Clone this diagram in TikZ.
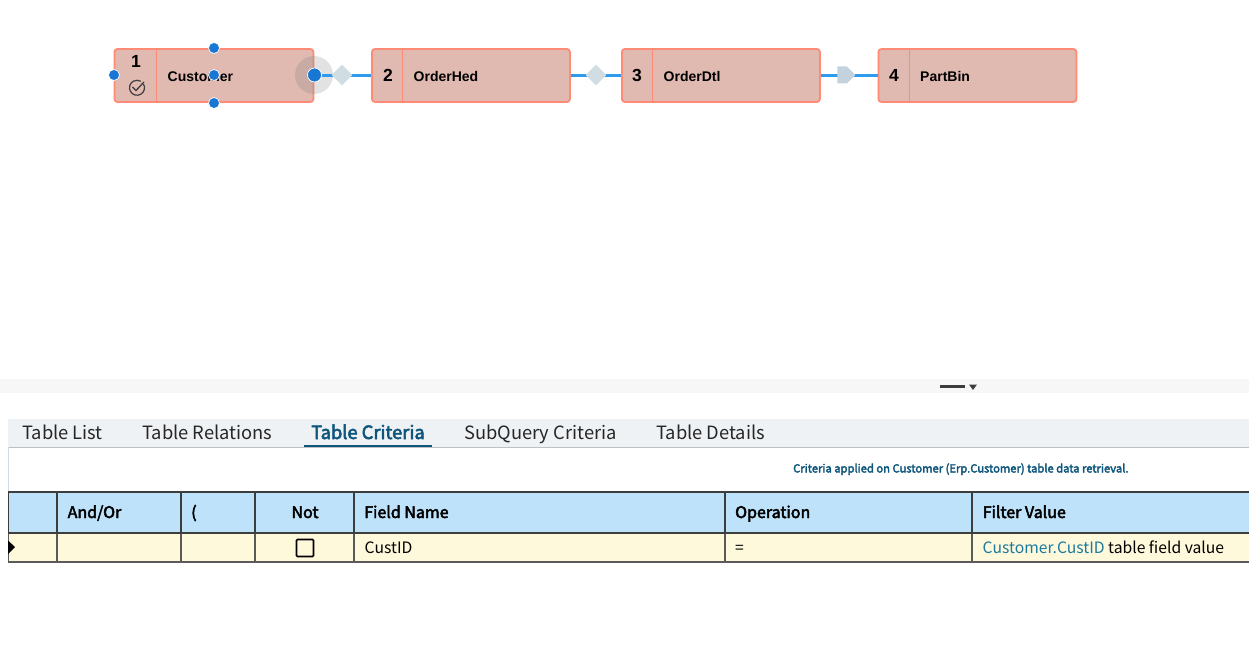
\documentclass[tikz,border=0pt]{standalone}
\usepackage{fontspec}
\usepackage{xcolor}
\setmainfont{Noto Sans CJK SC}
\newfontfamily\tblfont{Liberation Sans}
\newfontfamily\semifont[FakeBold=3]{Noto Sans CJK SC}
\usetikzlibrary{positioning,shapes.geometric,shapes.symbols}
\definecolor{tblfill}{HTML}{E0B9B1}
\definecolor{tbledge}{HTML}{FF8A75}
\definecolor{linkblue}{HTML}{2F9BEF}
\definecolor{handleblue}{HTML}{1976D2}
\definecolor{hdrblue}{HTML}{BDE2FA}
\definecolor{rowyellow}{HTML}{FFF9DC}
\definecolor{gridgray}{HTML}{3D3D3D}
\definecolor{tabnavy}{HTML}{0F567C}
\definecolor{linkteal}{HTML}{1B7A9E}
\definecolor{markpale}{HTML}{D0DEE3}
\definecolor{markblue}{HTML}{C3D2DC}
\definecolor{tabstrip}{HTML}{EFF2F5}
\tikzset{
    tablebox/.style = {draw=tbledge, fill=tblfill, line width=1.8pt, rounded corners=3pt, minimum height=53pt, inner sep=0pt, anchor=west},
    numtext/.style = {font=\tblfont\fontsize{17.5}{17}\selectfont\bfseries, inner sep=0pt, anchor=base},
    nametext/.style = {font=\tblfont\fontsize{14}{14}\selectfont\bfseries, inner sep=0pt, anchor=base west},
    joinmark/.style = {diamond, fill=markpale, minimum size=21pt, inner sep=0pt},
    arrowmark/.style = {signal, signal to=east, fill=markblue, minimum width=18pt, minimum height=17pt, inner sep=0pt},
    link/.style = {draw=linkblue, line width=3pt},
    handle/.style = {circle, fill=handleblue, draw=white, line width=.7pt, minimum size=#1, inner sep=0pt},
    tabtext/.style = {font=\fontsize{18.3}{19}\selectfont, text=black!85, inner sep=0pt, anchor=base west},
    hdrcell/.style = {draw=gridgray, fill=hdrblue, line width=2pt, minimum height=41pt, inner sep=0pt, anchor=north west},
    rowcell/.style = {draw=gridgray!85, fill=rowyellow, line width=2pt, minimum height=29pt, inner sep=0pt, anchor=north west},
    hdrtext/.style = {font=\semifont\fontsize{16}{17}\selectfont, inner sep=0pt, anchor=base west},
    celltext/.style = {font=\fontsize{15.7}{17}\selectfont, inner sep=0pt, anchor=base west}
}
\begin{document}
\begin{tikzpicture}[x=1pt, y=-1pt]
    \useasboundingbox (0,0) rectangle (1249,652);
    % query tables
    \node[tablebox, minimum width=199pt] (cust) at (113.5,75.5) {};
    \node[tablebox, minimum width=198pt] (hed) at (371,75.5) {};
    \node[tablebox, minimum width=198pt] (dtl) at (621,75.5) {};
    \node[tablebox, minimum width=198pt] (bin) at (877.5,75.5) {};
    \draw[tbledge, line width=1pt] (156.7,49) -- (156.7,101) (402.7,49) -- (402.7,101) (652,49) -- (652,101) (909.7,49) -- (909.7,101);
    \node[numtext] (n1) at (136,68) {1};
    \node[numtext] (n2) at (388,82) {2};
    \node[numtext] (n3) at (637,82) {3};
    \node[numtext] (n4) at (894,82) {4};
    \node[nametext] (l1) at (167.5,81.5) {Customer};
    \node[nametext] (l2) at (413.5,81.5) {OrderHed};
    \node[nametext] (l3) at (663.5,81.5) {OrderDtl};
    \node[nametext] (l4) at (920,81.5) {PartBin};
    % check icon
    \draw[gridgray, line width=1.2pt] (143.5,84) arc (-30:300:7.5);
    \draw[gridgray, line width=1.3pt] (132.5,87) -- (136,90.5) -- (144,82);
    % links
    \fill[gray, opacity=.23] (314,75) circle (19);
    \draw[link] (cust.east) -- (hed.west);
    \draw[link] (hed.east) -- (dtl.west);
    \draw[link] (dtl.east) -- (bin.west);
    \node[joinmark] (m1) at (342,75) {};
    \node[joinmark] (m2) at (596,75) {};
    \node[arrowmark] (m3) at (842,75) {};
    % handles
    \node[handle=11pt] (hl) at (114,75) {};
    \node[handle=11pt] (ht) at (214,48) {};
    \node[handle=11pt] (hb) at (214,103) {};
    \node[handle=11pt] (hc) at (214,75) {};
    \node[handle=14pt] (hr) at (314.5,75) {};
    % splitter
    \fill[black!3] (0,379) rectangle (1249,393);
    \draw[gridgray, line width=3pt] (940,386) -- (965,386);
    \fill[gridgray] (969,384.5) -- (977,384.5) -- (973,390) -- cycle;
    % tabs
    \fill[tabstrip] (8,419) rectangle (1249,447);
    \draw[black!25, line width=1pt] (8,447) -- (1249,447);
    \draw[markpale, line width=1pt] (8.5,447) -- (8.5,492);
    \node[tabtext] (t1) at (22,439) {Table List};
    \node[tabtext] (t2) at (142,439) {Table Relations};
    \node[tabtext, font=\semifont\fontsize{18.3}{19}\selectfont, text=tabnavy] (t3) at (311,439) {Table Criteria};
    \node[tabtext] (t4) at (464,439) {SubQuery Criteria};
    \node[tabtext] (t5) at (656,439) {Table Details};
    \draw[tabnavy, line width=2pt] (304,445.5) -- (432,445.5);
    \node[hdrtext, font=\semifont\fontsize{11.2}{13}\selectfont, text=tabnavy] (note) at (793,472.5) {Criteria applied on Customer (Erp.Customer) table data retrieval.};
    % grid
    \foreach \xa/\cw/\nm in {7/49/a,56/124/b,180/74/c,254/99/d,353/371/e,724/247/f,971/290/g} {
        \node[rowcell, minimum width=\cw pt] (r\nm) at (\xa,532) {};
        \node[hdrcell, minimum width=\cw pt] (h\nm) at (\xa,491) {};
    }
    \fill[white] (0,489) rectangle (8,566);
    \node[hdrtext] (hl1) at (67.5,518) {And/Or};
    \node[hdrtext] (hl2) at (191,518) {(};
    \node[hdrtext, anchor=base] (hl3) at (305,518) {Not};
    \node[hdrtext] (hl4) at (364,518) {Field Name};
    \node[hdrtext] (hl5) at (735,518) {Operation};
    \node[hdrtext] (hl6) at (982.5,518) {Filter Value};
    \node[draw=black, line width=1.6pt, rounded corners=1pt, minimum size=17pt, inner sep=0pt] (chk) at (305,548) {};
    \node[celltext] (v1) at (364.5,553) {CustID};
    \node[celltext] (v2) at (735,553) {=};
    \node[celltext] (v3) at (982.5,553.5) {\textcolor{linkteal}{Customer.CustID} table field value};
    \fill[black] (8,540.5) -- (15,547) -- (8,554) -- cycle;
\end{tikzpicture}
\end{document}
